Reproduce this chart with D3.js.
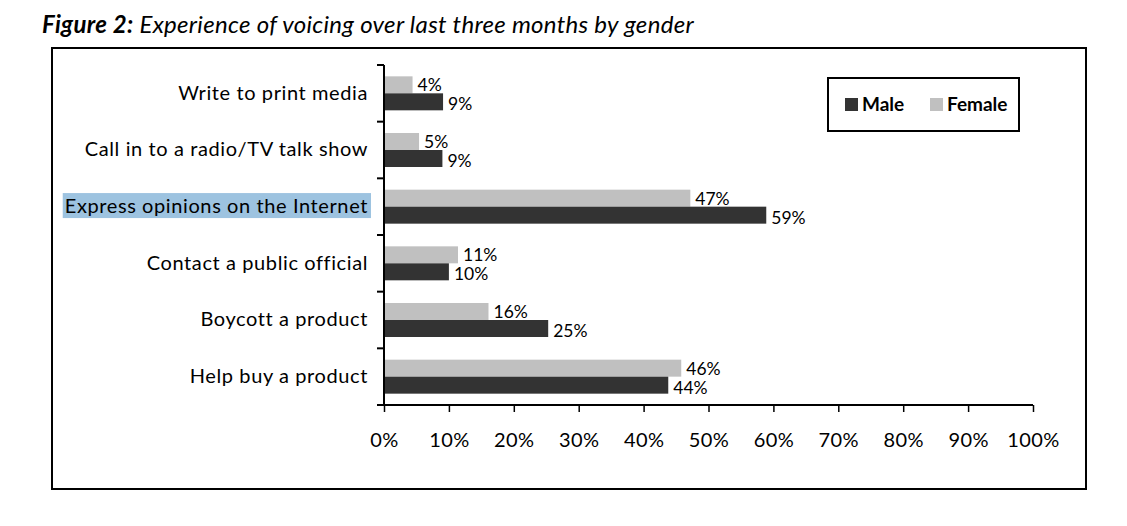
<!DOCTYPE html>
<html>
<head>
<meta charset="utf-8">
<script src="https://cdn.jsdelivr.net/npm/d3@7"></script>
<style>
  html, body { margin: 0; padding: 0; background: #fff; }
  svg { display: block; }
</style>
</head>
<body>
<svg id="chart" width="1127" height="526"></svg>
<script>
const categories = [
  "Write to print media",
  "Call in to a radio/TV talk show",
  "Express opinions on the Internet",
  "Contact a public official",
  "Boycott a product",
  "Help buy a product"
];
const seriesNames = ["Male", "Female"];
const maleValues = [9.1, 9.0, 58.9, 10.0, 25.3, 43.8];
const femaleValues = [4.4, 5.4, 47.2, 11.4, 16.1, 45.8];
const xTicks = [0, 10, 20, 30, 40, 50, 60, 70, 80, 90, 100];
const highlighted = "Express opinions on the Internet";

(function () {
const colors = { Male: "#333333", Female: "#c0c0c0" };
const font = "Lato, 'Open Sans', sans-serif";

const svg = d3.select("#chart");

// Title
const title = svg.append("text")
  .attr("x", 42).attr("y", 33)
  .attr("font-family", font)
  .attr("font-size", 24)
  .attr("font-style", "italic")
  .style("letter-spacing", "0.3px")
  .attr("fill", "#000");
title.append("tspan").attr("font-weight", "bold").text("Figure 2:");
title.append("tspan").text(" Experience of voicing over last three months by gender");

// Outer frame
svg.append("rect")
  .attr("x", 52).attr("y", 48).attr("width", 1034).attr("height", 441)
  .attr("fill", "none").attr("stroke", "#000").attr("stroke-width", 2);

const pLeft = 384, pRight = 1033, pTop = 65, pBottom = 405;

const x = d3.scaleLinear().domain([0, 100]).range([pLeft, pRight]);
const y = d3.scaleBand().domain(categories).range([pTop, pBottom]).padding(0);
const ySub = d3.scaleBand().domain(["Female", "Male"]).range([0, y.bandwidth()])
  .paddingInner(0).paddingOuter(0.667);

const rows = categories.map((c, i) => ({ cat: c, Male: maleValues[i], Female: femaleValues[i] }));

// Highlight behind label
const hl = svg.append("rect").attr("fill", "#9dc3e0");

// Bars
const g = svg.append("g");
rows.forEach(r => {
  ["Female", "Male"].forEach(s => {
    g.append("rect")
      .attr("x", x(0))
      .attr("y", y(r.cat) + ySub(s))
      .attr("width", x(r[s]) - x(0))
      .attr("height", ySub.bandwidth())
      .attr("fill", colors[s]);
  });
});

// Value labels
rows.forEach(r => {
  ["Female", "Male"].forEach(s => {
    g.append("text")
      .attr("x", x(r[s]) + 5)
      .attr("y", y(r.cat) + ySub(s) + ySub.bandwidth() + (s === "Male" ? 0 : -2))
      .attr("font-family", font)
      .attr("font-size", 17.5)
      .attr("fill", "#000")
      .text(Math.round(r[s]) + "%");
  });
});

// Y axis
const yAxis = d3.axisLeft(y).tickSize(0).tickPadding(16);
const yg = svg.append("g").attr("transform", `translate(${pLeft},0)`).call(yAxis);
yg.select(".domain").remove();
yg.selectAll("text")
  .attr("font-family", font)
  .attr("font-size", 20)
  .attr("fill", "#000")
  .attr("dy", "0.32em")
  .style("letter-spacing", "0.6px");

yg.selectAll(".tick").each(function(d) {
  if (d === highlighted) {
    const txt = d3.select(this).select("text").node();
    const b = txt.getBBox();
    const ty = y(d) + y.bandwidth() / 2;
    hl.attr("x", pLeft + b.x - 2).attr("y", ty + b.y)
      .attr("width", b.width + 5).attr("height", b.height + 1);
  }
});

// y axis line and boundary ticks
svg.append("line")
  .attr("x1", pLeft).attr("x2", pLeft).attr("y1", pTop).attr("y2", pBottom)
  .attr("stroke", "#000").attr("stroke-width", 2);
const bounds = categories.map(c => y(c)).concat([pBottom]);
svg.append("g").selectAll("line").data(bounds).join("line")
  .attr("x1", pLeft - 7).attr("x2", pLeft)
  .attr("y1", d => d).attr("y2", d => d)
  .attr("stroke", "#000").attr("stroke-width", 2);

// X axis
const xAxis = d3.axisBottom(x).tickValues(xTicks).tickFormat(d => d + "%")
  .tickSize(7).tickPadding(21);
const xg = svg.append("g").attr("transform", `translate(0,${pBottom})`).call(xAxis);
xg.select(".domain").attr("stroke-width", 2).attr("d", `M${pLeft},0H${pRight}`);
xg.selectAll(".tick line").attr("stroke-width", 1.5);
xg.selectAll("text")
  .attr("font-family", font)
  .attr("font-size", 20)
  .style("letter-spacing", "0.4px")
  .attr("fill", "#000");

// Legend
const lg = svg.append("g");
lg.append("rect")
  .attr("x", 828).attr("y", 78).attr("width", 191).attr("height", 53)
  .attr("fill", "#fff").attr("stroke", "#000").attr("stroke-width", 2);
const legendX = { Male: 845, Female: 930 };
seriesNames.forEach(s => {
  lg.append("rect")
    .attr("x", legendX[s]).attr("y", 98).attr("width", 13).attr("height", 13)
    .attr("fill", colors[s]);
  lg.append("text")
    .attr("x", legendX[s] + 17).attr("y", 111)
    .attr("font-family", font)
    .attr("font-size", 19)
    .attr("font-weight", "bold")
    .attr("fill", "#000")
    .text(s);
});
})();
</script>
</body>
</html>
